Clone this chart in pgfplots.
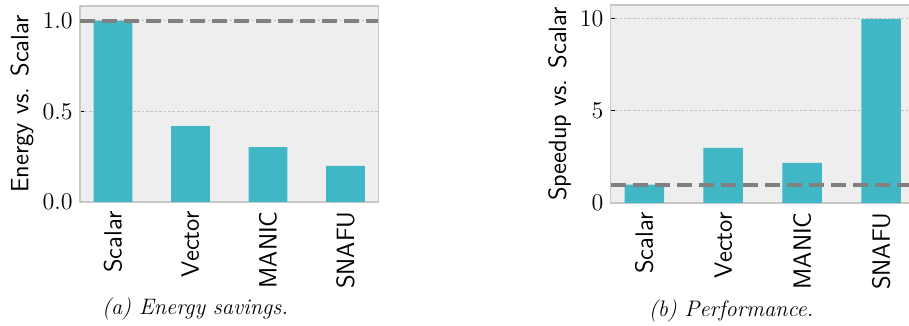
\documentclass[border=0pt]{standalone}
\usepackage{fontspec}
\usepackage{pgfplots}
\pgfplotsset{compat=1.18}

\definecolor{barteal}{HTML}{41B6C4}
\definecolor{panelbg}{HTML}{EEEEEE}
\definecolor{framegray}{HTML}{C8C8C8}
\definecolor{refgray}{HTML}{808080}
\definecolor{gridgray}{HTML}{C4C4C4}

% Shared look of both panels
\pgfplotsset{
  panel/.style={
    scale only axis,
    anchor=south west,
    clip=false,
    axis background/.style={fill=panelbg},
    axis line style={framegray, line width=0.6pt},
    xmin=-0.425, xmax=3.425, ymin=0,
    xtick={0,1,2,3},
    xticklabels={Scalar,Vector,MANIC,SNAFU},
    tick align=inside,
    tick pos=left,
    major tick length=2pt,
    tick style={black, line width=0.4pt},
    ymajorgrids,
    grid style={gridgray, line width=0.4pt, dash pattern=on 1.4pt off 0.8pt},
    xticklabel style={font=\fontsize{12.5}{14}\sffamily, rotate=90, anchor=east, inner sep=0pt},
    xticklabel shift=4.5pt,
    yticklabel style={font=\fontsize{12}{14}\selectfont, inner sep=0pt},
    yticklabel shift=3.5pt,
    ylabel style={font=\fontsize{12.5}{14}\sffamily, anchor=center},
  },
}
\tikzset{
  refline/.style={refgray, line width=2pt, dash pattern=on 7.7pt off 3.3pt},
  bars/.style={ybar, bar width=0.5, fill=barteal, draw=none},
  subcap/.style={font=\fontsize{11.2}{13}\itshape},
}

\begin{document}
\begin{tikzpicture}
\path[use as bounding box, clip] (0pt,0pt) rectangle (454.5pt,163pt);

% (a) energy relative to the scalar core
\begin{axis}[panel,
  at={(40pt,62pt)}, width=149.2pt, height=98pt,
  ymax=1.081, ytick={0,0.5,1},
  yticklabel style={/pgf/number format/.cd, fixed, fixed zerofill, precision=1},
  ylabel={Energy vs. Scalar},
  ylabel style={at={(axis description cs:-0.194,0.5)}},
]
\addplot[bars] coordinates {(0,1.0) (1,0.419) (2,0.303) (3,0.199)};
\addplot[refline] coordinates {(-0.425,1) (3.425,1)};
\node[subcap] at (axis description cs:0.3855,-0.545) {(a) Energy savings.};
\end{axis}

% (b) speedup relative to the scalar core
\begin{axis}[panel,
  at={(305.35pt,61.5pt)}, width=152pt, height=99pt,
  ymax=10.72, ytick={0,5,10},
  ylabel={Speedup vs. Scalar},
  ylabel style={at={(axis description cs:-0.168,0.5)}},
]
\addplot[bars] coordinates {(0,1.0) (1,2.98) (2,2.17) (3,9.96)};
\addplot[refline] coordinates {(-0.425,1) (3.425,1)};
\node[subcap] at (axis description cs:0.396,-0.545) {(b) Performance.};
\end{axis}
\end{tikzpicture}
\end{document}
